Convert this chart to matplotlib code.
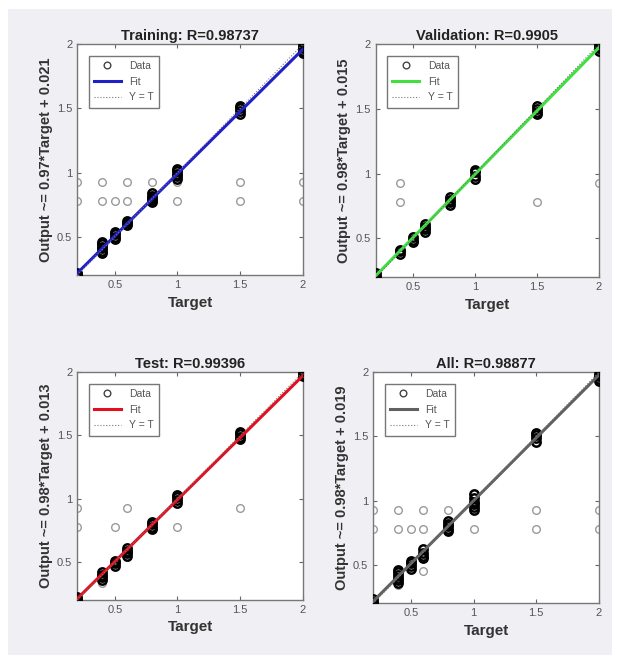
import matplotlib
matplotlib.use('Agg')
import matplotlib.pyplot as plt
from matplotlib.patches import Rectangle

plt.rcParams['font.family'] = ['Liberation Sans', 'DejaVu Sans']

# --------------[DATA]----------------
titles = ['Training: R=0.98737', 'Validation: R=0.9905', 'Test: R=0.99396', 'All: R=0.98877']
ylabels = ['Output ~= 0.97*Target + 0.021', 'Output ~= 0.98*Target + 0.015',
           'Output ~= 0.98*Target + 0.013', 'Output ~= 0.98*Target + 0.019']
fit_slope = [0.97, 0.98, 0.98, 0.98]
fit_offset = [0.021, 0.015, 0.013, 0.019]
fit_colors = ['#2020c8', '#40e040', '#e01020', '#606060']

# clustered outputs per target (black circles)
train_t = [0.2, 0.2, 0.2, 0.2, 0.4, 0.4, 0.4, 0.4, 0.4, 0.4, 0.5, 0.5, 0.5, 0.5, 0.6, 0.6, 0.6,
           0.8, 0.8, 0.8, 0.8, 0.8, 1.0, 1.0, 1.0, 1.0, 1.0, 1.5, 1.5, 1.5, 1.5,
           2.0, 2.0, 2.0, 2.0, 2.0]
train_y = [0.19, 0.20, 0.21, 0.22, 0.37, 0.39, 0.41, 0.42, 0.44, 0.46, 0.48, 0.50, 0.52, 0.54, 0.59, 0.61, 0.62,
           0.77, 0.79, 0.80, 0.82, 0.84, 0.95, 0.97, 0.99, 1.01, 1.03, 1.46, 1.48, 1.50, 1.52,
           1.93, 1.95, 1.97, 1.99, 2.01]
val_t = [0.2, 0.2, 0.2, 0.2, 0.4, 0.4, 0.4, 0.5, 0.5, 0.5, 0.6, 0.6, 0.6, 0.6, 0.8, 0.8, 0.8, 0.8,
         1.0, 1.0, 1.0, 1.0, 1.5, 1.5, 1.5, 1.5, 2.0, 2.0, 2.0, 2.0]
val_y = [0.18, 0.19, 0.21, 0.23, 0.38, 0.40, 0.41, 0.47, 0.49, 0.51, 0.55, 0.57, 0.59, 0.61, 0.76, 0.78, 0.80, 0.82,
         0.96, 0.98, 1.01, 1.03, 1.46, 1.48, 1.50, 1.52, 1.95, 1.97, 1.99, 2.01]
test_t = [0.2, 0.2, 0.2, 0.2, 0.4, 0.4, 0.4, 0.4, 0.5, 0.5, 0.5, 0.6, 0.6, 0.6, 0.6, 0.8, 0.8, 0.8, 0.8,
          1.0, 1.0, 1.0, 1.0, 1.5, 1.5, 1.5, 1.5, 2.0, 2.0, 2.0]
test_y = [0.18, 0.19, 0.21, 0.22, 0.36, 0.38, 0.40, 0.42, 0.47, 0.49, 0.51, 0.55, 0.57, 0.59, 0.61, 0.76, 0.78,
          0.80, 0.82, 0.97, 0.99, 1.01, 1.03, 1.47, 1.49, 1.51, 1.53, 1.97, 1.99, 2.01]
all_t = [0.2, 0.2, 0.2, 0.2, 0.2, 0.4, 0.4, 0.4, 0.4, 0.4, 0.4, 0.5, 0.5, 0.5, 0.5, 0.6, 0.6, 0.6, 0.6,
         0.8, 0.8, 0.8, 0.8, 0.8, 1.0, 1.0, 1.0, 1.0, 1.0, 1.0, 1.5, 1.5, 1.5, 1.5,
         2.0, 2.0, 2.0, 2.0, 2.0]
all_y = [0.17, 0.18, 0.20, 0.21, 0.23, 0.36, 0.38, 0.40, 0.42, 0.44, 0.46, 0.47, 0.49, 0.51, 0.53, 0.55, 0.57,
         0.59, 0.62, 0.76, 0.78, 0.80, 0.82, 0.84, 0.93, 0.95, 0.97, 0.99, 1.02, 1.05, 1.46, 1.49, 1.51, 1.53,
         1.93, 1.95, 1.97, 1.99, 2.02]

# faint outlier circles (grey)
train_ot = [0.2, 0.4, 0.6, 0.8, 1.0, 1.5, 2.0, 0.2, 0.4, 0.5, 0.6, 1.0, 1.5, 2.0]
train_oy = [0.93, 0.93, 0.93, 0.93, 0.93, 0.93, 0.93, 0.78, 0.78, 0.78, 0.78, 0.78, 0.78, 0.78]
val_ot = [0.4, 0.4, 1.5, 2.0, 1.0]
val_oy = [0.93, 0.78, 0.78, 0.93, 0.95]
test_ot = [0.2, 0.6, 1.5, 0.2, 0.5, 1.0, 0.4, 0.6]
test_oy = [0.93, 0.93, 0.93, 0.78, 0.78, 0.78, 0.33, 0.54]
all_ot = [0.2, 0.4, 0.6, 0.8, 1.0, 1.5, 2.0, 0.2, 0.4, 0.5, 0.6, 1.0, 1.5, 2.0, 0.4, 0.6]
all_oy = [0.93, 0.93, 0.93, 0.93, 0.93, 0.93, 0.93, 0.78, 0.78, 0.78, 0.78, 0.78, 0.78, 0.78, 0.34, 0.45]

data_t = [train_t, val_t, test_t, all_t]
data_y = [train_y, val_y, test_y, all_y]
out_t = [train_ot, val_ot, test_ot, all_ot]
out_y = [train_oy, val_oy, test_oy, all_oy]

ticks = [0.5, 1, 1.5, 2]
tick_labels = ['0.5', '1', '1.5', '2']
line_x = [0.2, 2.0]

# --------------[PLOTTING]----------------
fig = plt.figure(figsize=(6.22, 6.60), dpi=100)
fig.patch.set_facecolor('white')
fig.patches.append(Rectangle((8 / 622, 5 / 660), 604 / 622, 646 / 660, transform=fig.transFigure,
                             facecolor='#f0eff3', edgecolor='none', zorder=-10))

positions = [[0.124, 0.583, 0.363, 0.350],
             [0.604, 0.580, 0.359, 0.353],
             [0.124, 0.091, 0.363, 0.345],
             [0.600, 0.086, 0.363, 0.350]]

for i in range(4):
    ax = fig.add_axes(positions[i])
    ax.set_facecolor('white')
    fit_y = [fit_slope[i] * x + fit_offset[i] for x in line_x]
    ax.plot(out_t[i], out_y[i], 'o', mfc='none', mec='#9a9a9a', ms=5.5, mew=1.0)
    ax.plot(data_t[i], data_y[i], 'o', mfc='none', mec='black', ms=6, mew=1.8,
            label='Data', zorder=3)
    ax.plot(line_x, fit_y, '-', color=fit_colors[i], lw=2.2, label='Fit', zorder=4)
    ax.plot(line_x, line_x, ':', color='#777777', lw=0.8, label='Y = T', zorder=5)
    ax.set_xlim(0.2, 2.0)
    ax.set_ylim(0.2, 2.0)
    ax.set_xticks(ticks)
    ax.set_xticklabels(tick_labels)
    ax.set_yticks(ticks)
    ax.set_yticklabels(tick_labels)
    ax.tick_params(direction='in', top=True, right=True, length=3, labelsize=8,
                   colors='#666666', labelcolor='#555555')
    for s in ax.spines.values():
        s.set_color('#777777')
        s.set_linewidth(1.0)
    ax.set_title(titles[i], fontsize=10.5, fontweight='bold', color='#222222', pad=3)
    ax.set_xlabel('Target', fontsize=11, fontweight='bold', color='#333333', labelpad=4)
    ax.set_ylabel(ylabels[i], fontsize=10.5, fontweight='bold', color='#333333', labelpad=3)
    leg = ax.legend(loc='upper left', fontsize=7.5, frameon=True, fancybox=False,
                    edgecolor='#555555', borderpad=0.5, handlelength=2.6,
                    labelspacing=0.55, borderaxespad=1.1, markerscale=0.8)
    leg.get_frame().set_linewidth(1.0)
    leg.legend_handles[0].set_markeredgewidth(1.0)
    leg.legend_handles[0].set_markeredgecolor('#444444')
    for t in leg.get_texts():
        t.set_color('#555555')

fig.savefig('out.png', dpi=100, facecolor=fig.get_facecolor())
